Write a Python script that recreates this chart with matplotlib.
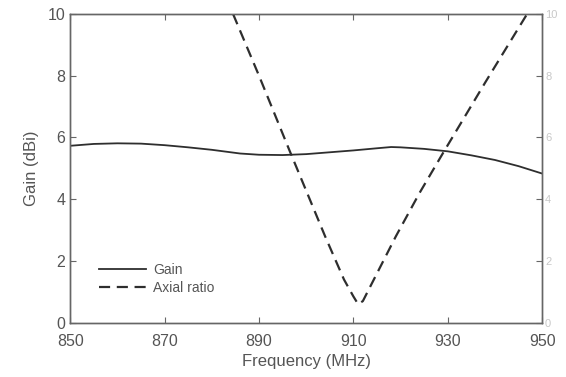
import matplotlib
matplotlib.use('Agg')
import matplotlib.pyplot as plt

plt.rcParams['font.family'] = ['Liberation Sans', 'DejaVu Sans']

# ── données ──
freq_gain = [850, 855, 860, 865, 870, 875, 880, 886, 890, 895, 900, 905,
             910, 915, 918, 920, 925, 930, 935, 940, 945, 950]
gain = [5.73, 5.79, 5.81, 5.80, 5.75, 5.68, 5.60, 5.48, 5.44, 5.43, 5.46, 5.52,
        5.58, 5.65, 5.69, 5.68, 5.63, 5.55, 5.42, 5.27, 5.07, 4.83]

freq_ar = [884.5, 890, 896.4, 904, 908, 910, 911, 912, 914, 919, 924, 929, 938, 946.8]
axial_ratio = [10.0, 8.0, 5.6, 2.8, 1.4, 0.85, 0.6, 0.7, 1.3, 2.8, 4.2, 5.5, 7.8, 10.0]

xticks = [850, 870, 890, 910, 930, 950]
yticks = [0, 2, 4, 6, 8, 10]

INK = '#2e2e2e'
TXT = '#555555'
SPINE = '#666666'

fig = plt.figure(figsize=(5.66, 3.77), dpi=100)
ax = fig.add_axes([0.124, 0.144, 0.834, 0.819])

l1, = ax.plot(freq_gain, gain, color=INK, lw=1.3, label='Gain')
ax.set_xlim(850, 950)
ax.set_ylim(0, 10)
ax.set_xticks(xticks)
ax.set_yticks(yticks)
ax.tick_params(direction='in', length=4, colors=SPINE, labelcolor=TXT,
               labelsize=11.5, top=True, right=False)
ax.tick_params(axis='x', pad=8)
ax.set_xlabel('Frequency (MHz)', fontsize=12, color=TXT, labelpad=4)
ax.set_ylabel('Gain (dBi)', fontsize=12, color=TXT, labelpad=6)
for s in ax.spines.values():
    s.set_color(SPINE)
    s.set_linewidth(1.0)

ax2 = ax.twinx()
l2, = ax2.plot(freq_ar, axial_ratio, color=INK, lw=1.6, ls=(0, (5, 3)),
               label='Axial ratio')
ax2.set_ylim(0, 10)
ax2.set_yticks(yticks)
ax2.tick_params(direction='in', length=4, colors=SPINE, labelcolor='#c8c8c8',
                labelsize=8, pad=2)
for s in ax2.spines.values():
    s.set_color(SPINE)
    s.set_linewidth(1.0)

ax.legend(handles=[l1, l2], loc='lower left', bbox_to_anchor=(0.035, 0.05),
          frameon=False, fontsize=10, handlelength=3.4, handletextpad=0.5,
          labelspacing=0.3, labelcolor=TXT)

fig.savefig('out.png', dpi=100)
